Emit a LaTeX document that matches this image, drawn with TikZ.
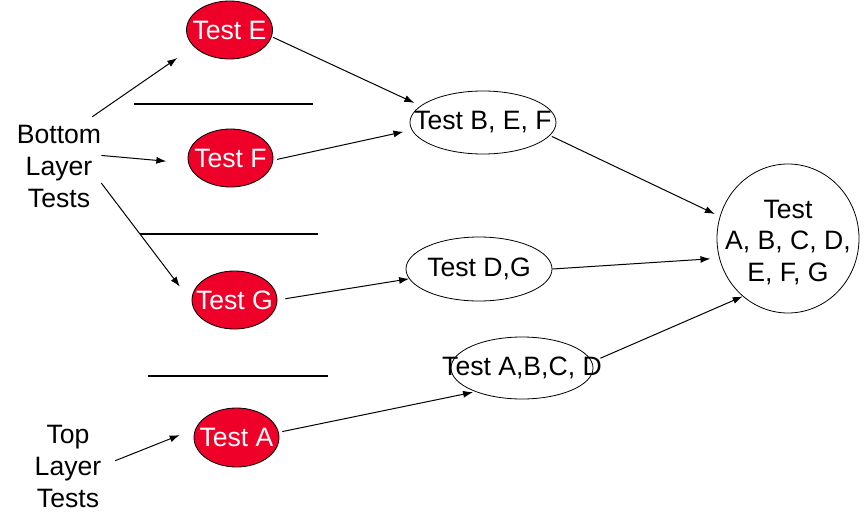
\documentclass[tikz,border=0pt]{standalone}
\usepackage{fontspec}
\setmainfont{Liberation Sans}
\usetikzlibrary{shapes.geometric,arrows.meta}
\definecolor{testred}{RGB}{238,0,40}
\begin{document}
\begin{tikzpicture}[x=1pt,y=-1pt,
  txt/.style={font=\fontsize{26.6}{32}\selectfont},
  ell/.style={ellipse, draw, line width=0.8pt, inner sep=-60pt, txt},
  redell/.style={ell, fill=testred, text=white},
  lab/.style={rectangle, inner sep=0pt, align=center, txt},
  arr/.style={-{Latex[length=10pt,width=7pt]}, line width=1pt},
  sepline/.style={line width=1.2pt}]
\useasboundingbox (0,0) rectangle (868,530);

\node[redell, minimum width=86pt, minimum height=58pt] (E) at (229.5,30) {Test E};
\node[redell, minimum width=85pt, minimum height=58pt] (F) at (230.5,158) {Test F};
\node[redell, minimum width=85pt, minimum height=58pt] (G) at (234.5,300) {Test G};
\node[redell, minimum width=85pt, minimum height=59pt] (A) at (236.5,437.5) {Test A};
\node[ell, minimum width=146pt, minimum height=63pt] (BEF) at (483,122.5) {Test B, E, F};
\node[ell, minimum width=146pt, minimum height=64pt] (DG) at (479,269) {Test D,G};
\node[ell, minimum width=142pt, minimum height=62pt] (ABCD) at (522,368) {Test A,B,C, D};
\node[ell, minimum width=142pt, minimum height=149pt, align=center,
      font=\fontsize{26.6}{31.5}\selectfont] (ALL) at (788,238.5)
      {\rule{0pt}{26pt}Test\\A, B, C, D,\\E, F, G};
\node[lab, minimum width=72pt, minimum height=98pt] (BL) at (59,166) {Bottom\\Layer\\Tests};
\node[lab, minimum width=94pt, minimum height=98pt] (TL) at (68,466.5) {Top\\Layer\\Tests};

\draw[sepline] (134,104) -- (313,104);
\draw[sepline] (140,234) -- (318,234);
\draw[sepline] (148,376) -- (328,376);

\draw[arr, shorten >=20pt] (BL.56.85) -- (E.205.6);
\draw[arr, shorten >=22pt] (BL.14) -- (F.187.5);
\draw[arr, shorten >=19.6pt] (BL.-22.6) -- (G.183.1);
\draw[arr, shorten >=17pt] (TL.7.3) -- (A.168);
\draw[arr, shorten <=1.5pt, shorten >=6.8pt] (E.-9.1) -- (BEF.165);
\draw[arr, shorten <=4pt, shorten >=8.4pt] (F.-3.9) -- (BEF.186.2);
\draw[arr, shorten <=8pt] (G.0.7) -- (DG.188.2);
\draw[arr, shorten <=3.6pt, shorten >=2.3pt] (A.7.9) -- (ABCD.207.7);
\draw[arr, shorten <=2pt, shorten >=5.4pt] (BEF.-11.4) -- (ALL.162.7);
\draw[arr, shorten >=8.7pt] (DG.-0.8) -- (ALL.196.5);
\draw[arr, shorten <=9.1pt] (ABCD.5) -- (ALL.232.6);
\end{tikzpicture}
\end{document}
